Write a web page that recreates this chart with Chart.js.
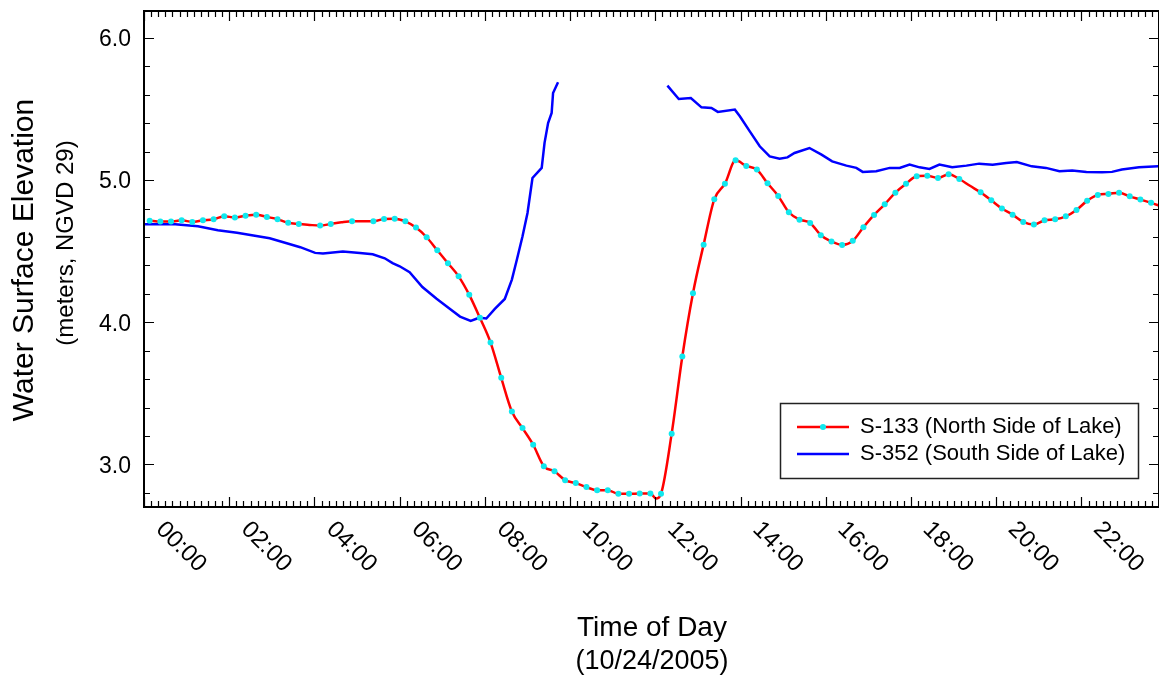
<!DOCTYPE html>
<html>
<head>
<meta charset="utf-8">
<script src="https://cdn.jsdelivr.net/npm/chart.js@4/dist/chart.umd.min.js"></script>
<style>
  html, body { margin: 0; padding: 0; background: #ffffff; overflow: hidden; }
  #wrap { width: 1163px; height: 679px; }
</style>
</head>
<body>
<div id="wrap"><canvas id="c" width="1163" height="679"></canvas></div>
<script>
// ---- data ----
const redLabel = "S-133 (North Side of Lake)";
const blueLabel = "S-352 (South Side of Lake)";

const redTimes = [
  "00:08","00:23","00:38","00:53","01:08","01:23","01:38","01:53",
  "02:08","02:23","02:38","02:53","03:08","03:23","03:38","03:53",
  "04:08","04:23","04:38","04:53","05:08","05:23","05:38","05:53",
  "06:08","06:23","06:38","06:53","07:08","07:23","07:38","07:53",
  "08:08","08:23","08:38","08:53","09:08","09:23","09:38","09:53",
  "10:08","10:23","10:38","10:53","11:08","11:23","11:38","11:53",
  "12:01",
  "12:08","12:23","12:38","12:53","13:08","13:23","13:38","13:53",
  "14:08","14:23","14:38","14:53","15:08","15:23","15:38","15:53",
  "16:08","16:23","16:38","16:53","17:08","17:23","17:38","17:53",
  "18:08","18:23","18:38","18:53","19:08","19:23","19:38","19:53",
  "20:08","20:23","20:38","20:53","21:08","21:23","21:38","21:53",
  "22:08","22:23","22:38","22:53","23:08","23:23","23:38","23:53"
];
const redValues = [
  4.715,4.708,4.708,4.717,4.706,4.717,4.725,4.746,
  4.737,4.750,4.757,4.741,4.725,4.700,4.692,4.685,
  4.680,4.692,4.703,4.710,4.710,4.710,4.727,4.729,
  4.710,4.666,4.598,4.506,4.415,4.323,4.193,4.031,
  3.857,3.609,3.372,3.255,3.138,2.987,2.951,2.889,
  2.868,2.840,2.818,2.818,2.793,2.793,2.795,2.795,
  2.760,
  2.793,3.216,3.759,4.204,4.546,4.865,4.975,5.139,
  5.100,5.074,4.978,4.889,4.774,4.722,4.699,4.612,
  4.568,4.544,4.573,4.668,4.755,4.830,4.912,4.975,
  5.027,5.030,5.015,5.041,5.008,4.960,4.914,4.858,
  4.800,4.757,4.706,4.687,4.717,4.724,4.745,4.790,
  4.854,4.896,4.903,4.912,4.886,4.863,4.840,4.815
];
// samples drawn without a marker in the reference
const redNoMarker = ["03:53","04:38","05:08","12:01","19:23"];

const blueTimes = [
  "00:01","00:44","01:16","01:44","02:11","02:34","02:57","03:21","03:40","04:01",
  "04:12","04:40","05:04","05:22","05:39","05:50","06:00","06:14","06:32","06:52",
  "07:10","07:25","07:40","07:49","07:53","08:02","08:14","08:28","08:38","08:45",
  "08:53","09:00","09:07","09:20","09:24","09:29","09:34","09:36","09:43",
  "11:00",
  "12:17","12:33","12:50","13:05","13:19","13:28","13:52","13:59","14:13","14:27",
  "14:41","14:55","15:06","15:16","15:37","15:54","16:09","16:29","16:43","16:52",
  "17:11","17:30","17:44","17:58","18:12","18:26","18:40","18:58","19:18","19:36",
  "19:55","20:14","20:29","20:50","21:10","21:29","21:47","22:07","22:29","22:43",
  "22:57","23:21","23:48"
];
const blueValues = [
  4.690,4.690,4.675,4.648,4.629,4.610,4.591,4.556,4.528,4.488,
  4.483,4.498,4.488,4.478,4.450,4.416,4.394,4.352,4.248,4.165,
  4.097,4.040,4.010,4.026,4.031,4.026,4.094,4.164,4.300,4.440,
  4.605,4.769,5.015,5.086,5.262,5.402,5.473,5.613,5.688,
  null,
  5.665,5.571,5.578,5.512,5.508,5.480,5.496,5.449,5.343,5.238,
  5.167,5.151,5.160,5.191,5.226,5.179,5.132,5.102,5.086,5.058,
  5.062,5.086,5.086,5.109,5.090,5.079,5.109,5.090,5.102,5.116,
  5.109,5.121,5.128,5.097,5.086,5.062,5.067,5.058,5.055,5.058,
  5.074,5.090,5.097
];

const xTickLabels = ["00:00","02:00","04:00","06:00","08:00","10:00","12:00","14:00","16:00","18:00","20:00","22:00"];
const yTickLabels = ["3.0","4.0","5.0","6.0"];
const yTitle1 = "Water Surface Elevation";
const yTitle2 = "(meters, NGVD 29)";
const xTitle1 = "Time of Day";
const xTitle2 = "(10/24/2005)";

// ---- helpers ----
function hrs(s) { const p = s.split(':').map(Number); return p[0] + p[1] / 60; }
const FONT = '"Liberation Sans", Arial, Helvetica, sans-serif';

const redData = redTimes.map((t, i) => ({ x: hrs(t), y: redValues[i], t }));
const blueData = blueTimes.map((t, i) => ({ x: hrs(t), y: blueValues[i] }));

const frame = {
  id: 'frame',
  afterDraw(chart) {
    const ctx = chart.ctx;
    const a = chart.chartArea;
    const xs = chart.scales.x, ys = chart.scales.y;
    ctx.save();
    // ticks
    ctx.strokeStyle = '#000';
    ctx.lineWidth = 1.2;
    ctx.beginPath();
    for (let m = 0; m <= xs.max * 60 + 0.01; m += 10) {
      const px = Math.round(xs.getPixelForValue(m / 60)) + 0.5;
      const len = (m % 120 === 0) ? 10 : 6;
      ctx.moveTo(px, a.bottom); ctx.lineTo(px, a.bottom - len);
      ctx.moveTo(px, a.top); ctx.lineTo(px, a.top + len);
    }
    for (let v = 28; v <= 62; v += 2) {
      const val = v / 10;
      if (val < ys.min || val > ys.max) continue;
      const py = Math.round(ys.getPixelForValue(val)) + 0.5;
      const len = (v % 10 === 0) ? 10 : 6;
      ctx.moveTo(a.left, py); ctx.lineTo(a.left + len, py);
      ctx.moveTo(a.right, py); ctx.lineTo(a.right - len, py);
    }
    ctx.stroke();
    // axes box
    ctx.lineWidth = 2;
    ctx.strokeRect(a.left, a.top, a.right - a.left, a.bottom - a.top);

    // y tick labels
    ctx.fillStyle = '#000';
    ctx.font = '23px ' + FONT;
    ctx.textAlign = 'right';
    ctx.textBaseline = 'middle';
    yTickLabels.forEach(l => {
      ctx.fillText(l, a.left - 13, ys.getPixelForValue(parseFloat(l)) + 2);
    });
    // x tick labels, rotated down-right
    ctx.textAlign = 'center';
    ctx.font = '24px ' + FONT;
    xTickLabels.forEach(l => {
      const px = xs.getPixelForValue(hrs(l));
      ctx.save();
      ctx.translate(px + 37, a.bottom + 40);
      ctx.rotate(Math.PI / 4);
      ctx.fillText(l, 0, 0);
      ctx.restore();
    });
    // axis titles
    ctx.save();
    ctx.translate(25, 260);
    ctx.rotate(-Math.PI / 2);
    ctx.font = '30px ' + FONT;
    ctx.fillText(yTitle1, 0, 0);
    ctx.restore();
    ctx.save();
    ctx.translate(66, 243);
    ctx.rotate(-Math.PI / 2);
    ctx.font = '24px ' + FONT;
    ctx.fillText(yTitle2, 0, 0);
    ctx.restore();
    ctx.font = '28px ' + FONT;
    ctx.fillText(xTitle1, 652, 628);
    ctx.font = '27px ' + FONT;
    ctx.fillText(xTitle2, 652, 662);

    // legend
    const lx = 780.5, ly = 403.5, lw = 358, lh = 75;
    ctx.fillStyle = '#fff';
    ctx.fillRect(lx, ly, lw, lh);
    ctx.strokeStyle = '#222';
    ctx.lineWidth = 1.5;
    ctx.strokeRect(lx, ly, lw, lh);
    const ds = chart.data.datasets;
    const rows = [{ y: 427, d: ds[0], marker: true }, { y: 454, d: ds[1], marker: false }];
    rows.forEach(r => {
      ctx.strokeStyle = r.d.borderColor;
      ctx.lineWidth = 2.5;
      ctx.beginPath(); ctx.moveTo(797, r.y); ctx.lineTo(849, r.y); ctx.stroke();
      if (r.marker) {
        ctx.fillStyle = r.d.pointBackgroundColor;
        ctx.beginPath(); ctx.arc(823, r.y, 3, 0, Math.PI * 2); ctx.fill();
      }
      ctx.fillStyle = '#000';
      ctx.font = '22px ' + FONT;
      ctx.textAlign = 'left';
      ctx.textBaseline = 'middle';
      ctx.fillText(r.d.label, 860, r.y);
    });
    ctx.restore();
  }
};

new Chart(document.getElementById('c'), {
  type: 'line',
  data: {
    datasets: [
      {
        label: redLabel,
        data: redData,
        borderColor: '#ff0000',
        borderWidth: 2.5,
        pointBackgroundColor: '#10e8ee',
        pointBorderWidth: 0,
        pointRadius: c => (c.raw && redNoMarker.includes(c.raw.t)) ? 0 : 3,
        cubicInterpolationMode: 'monotone',
        fill: false
      },
      {
        label: blueLabel,
        data: blueData,
        borderColor: '#0000ff',
        borderWidth: 2.5,
        pointRadius: 0,
        tension: 0,
        spanGaps: false,
        fill: false
      }
    ]
  },
  options: {
    responsive: false,
    animation: false,
    devicePixelRatio: 1,
    layout: { padding: { left: 144, right: 2, top: 11, bottom: 172 } },
    plugins: { legend: { display: false }, title: { display: false }, tooltip: { enabled: false } },
    scales: {
      x: { type: 'linear', min: 0, max: 23.82, display: false },
      y: { type: 'linear', min: 2.70, max: 6.19, display: false }
    }
  },
  plugins: [frame]
});
</script>
</body>
</html>
